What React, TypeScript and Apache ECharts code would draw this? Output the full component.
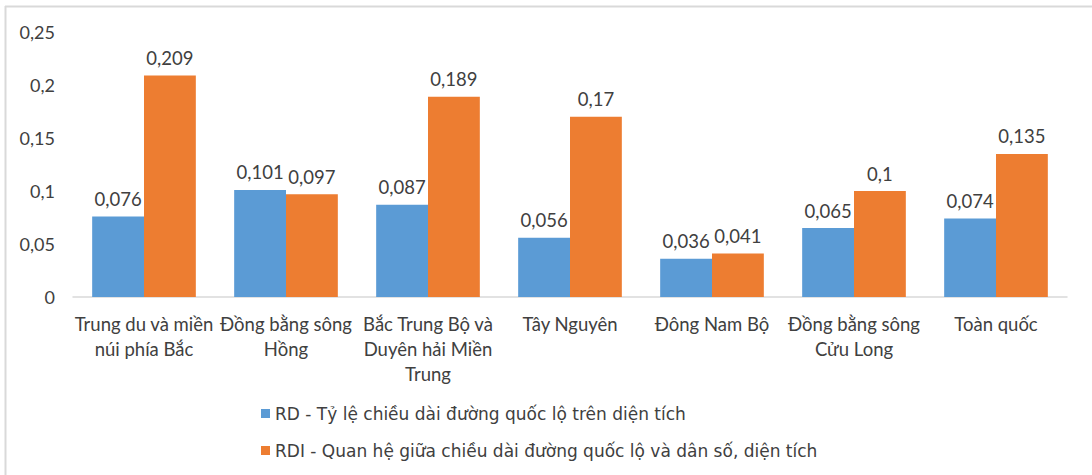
import React, { useEffect, useRef } from "react";
import * as echarts from "echarts";

const categories = [
  "Trung du và miền\nnúi phía Bắc",
  "Đồng bằng sông\nHồng",
  "Bắc Trung Bộ và\nDuyên hải Miền\nTrung",
  "Tây Nguyên",
  "Đông Nam Bộ",
  "Đồng bằng sông\nCửu Long",
  "Toàn quốc",
];
const rdValues = [0.076, 0.101, 0.087, 0.056, 0.036, 0.065, 0.074];
const rdiValues = [0.209, 0.097, 0.189, 0.17, 0.041, 0.1, 0.135];
const seriesNames = [
  "RD - Tỷ lệ chiều dài đường quốc lộ trên diện tích",
  "RDI - Quan hệ giữa chiều dài đường quốc lộ và dân số, diện tích",
];

const fmt = (v: number) => String(v).replace(".", ",");
const FONT = "Lato";

export default function App() {
  const ref = useRef<HTMLDivElement>(null);
  useEffect(() => {
    if (!ref.current) return;
    const chart = echarts.init(ref.current, null, { renderer: "svg" });
    const labelCfg = {
      show: true,
      position: "top" as const,
      distance: 8,
      color: "#404040",
      fontFamily: FONT,
      fontSize: 18.5,
      formatter: (p: any) => fmt(p.value),
    };
    chart.setOption({
      animation: false,
      backgroundColor: "#ffffff",
      grid: { left: 73, right: 25, top: 32, bottom: 178, containLabel: false },
      legend: {
        orient: "vertical",
        left: 256,
        top: 400,
        itemWidth: 9,
        itemHeight: 9,
        itemGap: 20,
        icon: "rect",
        textStyle: { fontFamily: "DejaVu Sans", fontSize: 17, color: "#404040" },
        data: seriesNames,
      },
      xAxis: {
        type: "category",
        data: categories,
        axisLine: { lineStyle: { color: "#d9d9d9", width: 1.5 } },
        axisTick: { show: false },
        axisLabel: {
          interval: 0,
          margin: 14,
          color: "#404040",
          fontFamily: FONT,
          fontSize: 18.5,
          lineHeight: 25,
        },
      },
      yAxis: {
        type: "value",
        min: 0,
        max: 0.25,
        interval: 0.05,
        splitLine: { show: false },
        axisLine: { show: false },
        axisTick: { show: false },
        axisLabel: {
          margin: 18,
          color: "#404040",
          fontFamily: FONT,
          fontSize: 18,
          formatter: (v: number) => fmt(Math.round(v * 100) / 100),
        },
      },
      series: [
        {
          name: seriesNames[0],
          type: "bar",
          data: rdValues,
          itemStyle: { color: "#5B9BD5" },
          barGap: "0%",
          barCategoryGap: "27%",
          label: labelCfg,
        },
        {
          name: seriesNames[1],
          type: "bar",
          data: rdiValues,
          itemStyle: { color: "#ED7D31" },
          barGap: "0%",
          barCategoryGap: "27%",
          label: labelCfg,
        },
      ],
      graphic: [
        {
          type: "line",
          shape: { x1: 5, y1: 6.5, x2: 1092, y2: 6.5 },
          style: { stroke: "#d9d9d9", lineWidth: 2 },
        },
        {
          type: "line",
          shape: { x1: 5.5, y1: 6, x2: 5.5, y2: 475 },
          style: { stroke: "#d9d9d9", lineWidth: 2 },
        },
      ],
    });
    return () => chart.dispose();
  }, []);
  return (
    <div
      ref={ref}
      style={{ position: "absolute", left: 0, top: 0, width: 1092, height: 475 }}
    />
  );
}
